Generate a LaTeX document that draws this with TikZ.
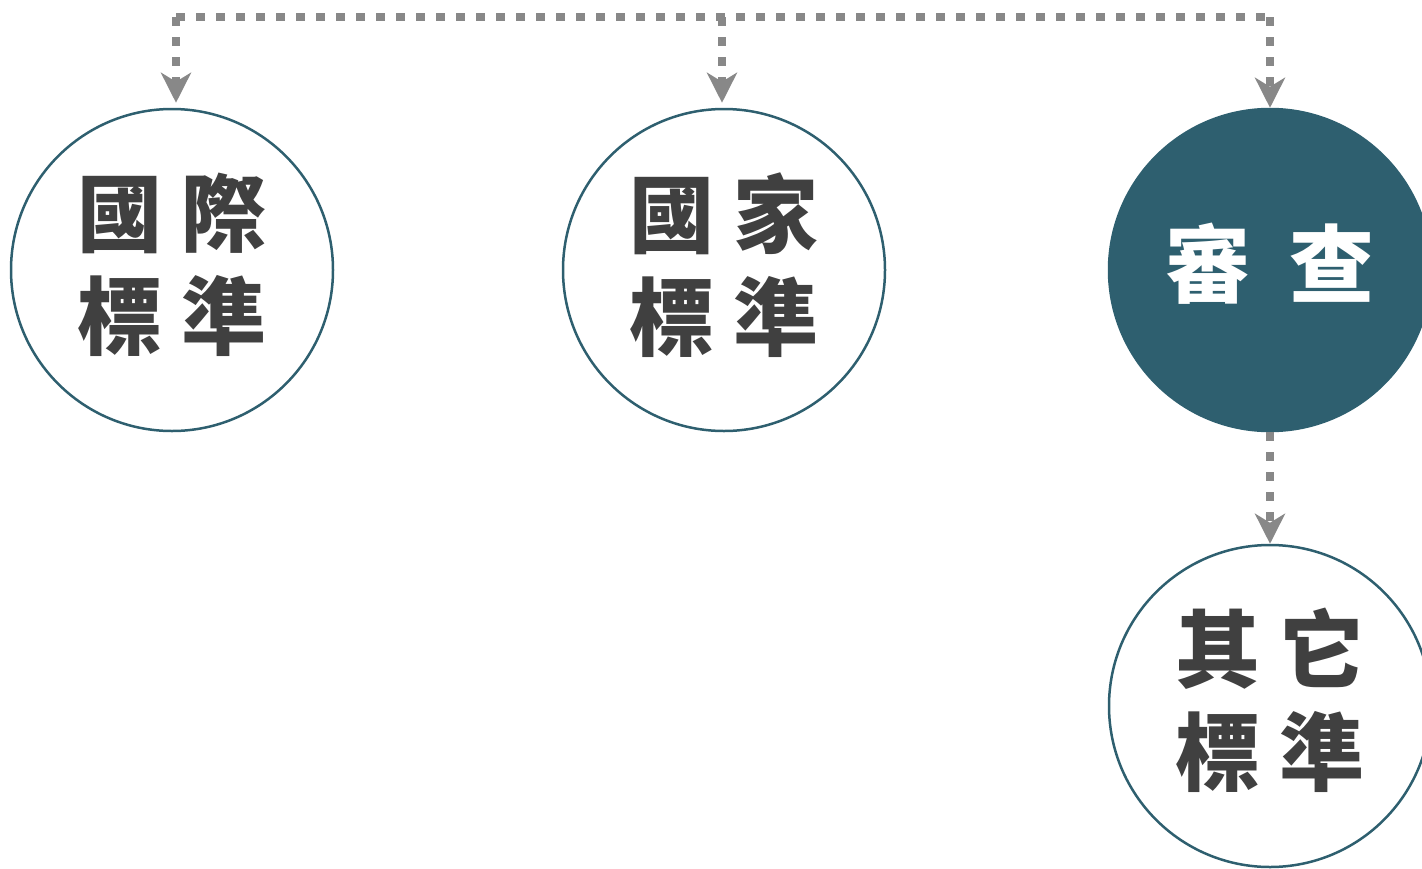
\documentclass[tikz,border=0pt]{standalone}
\usepackage{fontspec}
\newfontfamily\cjk{Noto Sans CJK TC}
\usetikzlibrary{arrows.meta}
\definecolor{teal1}{HTML}{2E5F6F}
\definecolor{txt}{HTML}{404040}
\definecolor{dotc}{HTML}{888888}
\tikzset{
  stdcircle/.style={circle, draw=teal1, line width=2.5pt, minimum size=322pt, inner sep=0pt},
  fillcircle/.style={stdcircle, fill=teal1},
  lbl/.style={font=\cjk\bfseries\fontsize{85pt}{103pt}\selectfont, text=txt, align=center, inner sep=0pt},
  wlbl/.style={lbl, text=white},
  dotline/.style={draw=dotc, line width=8.5pt, dash pattern=on 8.5pt off 11.5pt},
  dotarrow/.style={dotline, -{Stealth[length=30pt,width=30pt,inset=9pt]}, shorten >=5pt}
}
\begin{document}
\begin{tikzpicture}[x=1pt,y=1pt]
\useasboundingbox (0,0) rectangle (1422,-868);
\node[stdcircle] (a) at (172,-270) {};
\node[stdcircle] (b) at (724,-270) {};
\node[fillcircle] (c) at (1270,-270) {};
\node[stdcircle] (d) at (1270,-706) {};
\node[lbl] (ta) at ([yshift=5pt]a.center) {國 際\\標 準};
\node[lbl] (tb) at ([yshift=5pt]b.center) {國 家\\標 準};
\node[wlbl] (tc) at ([yshift=6pt]c.center) {審 \hspace{20pt}查};
\node[lbl] (td) at ([yshift=6pt]d.center) {其 它\\標 準};
\coordinate (tl) at (176,-17);
\coordinate (tm) at (722,-17);
\coordinate (tr) at (1270,-17);
\draw[dotline] (tl) -- (tr);
\draw[dotarrow] (tl) -- (tl |- a.north);
\draw[dotarrow] (tm) -- (tm |- b.north);
\draw[dotarrow, shorten >=0pt] (tr) -- (c.north);
\draw[dotarrow, shorten >=0pt] (c.south) -- (d.north);
\end{tikzpicture}
\end{document}
